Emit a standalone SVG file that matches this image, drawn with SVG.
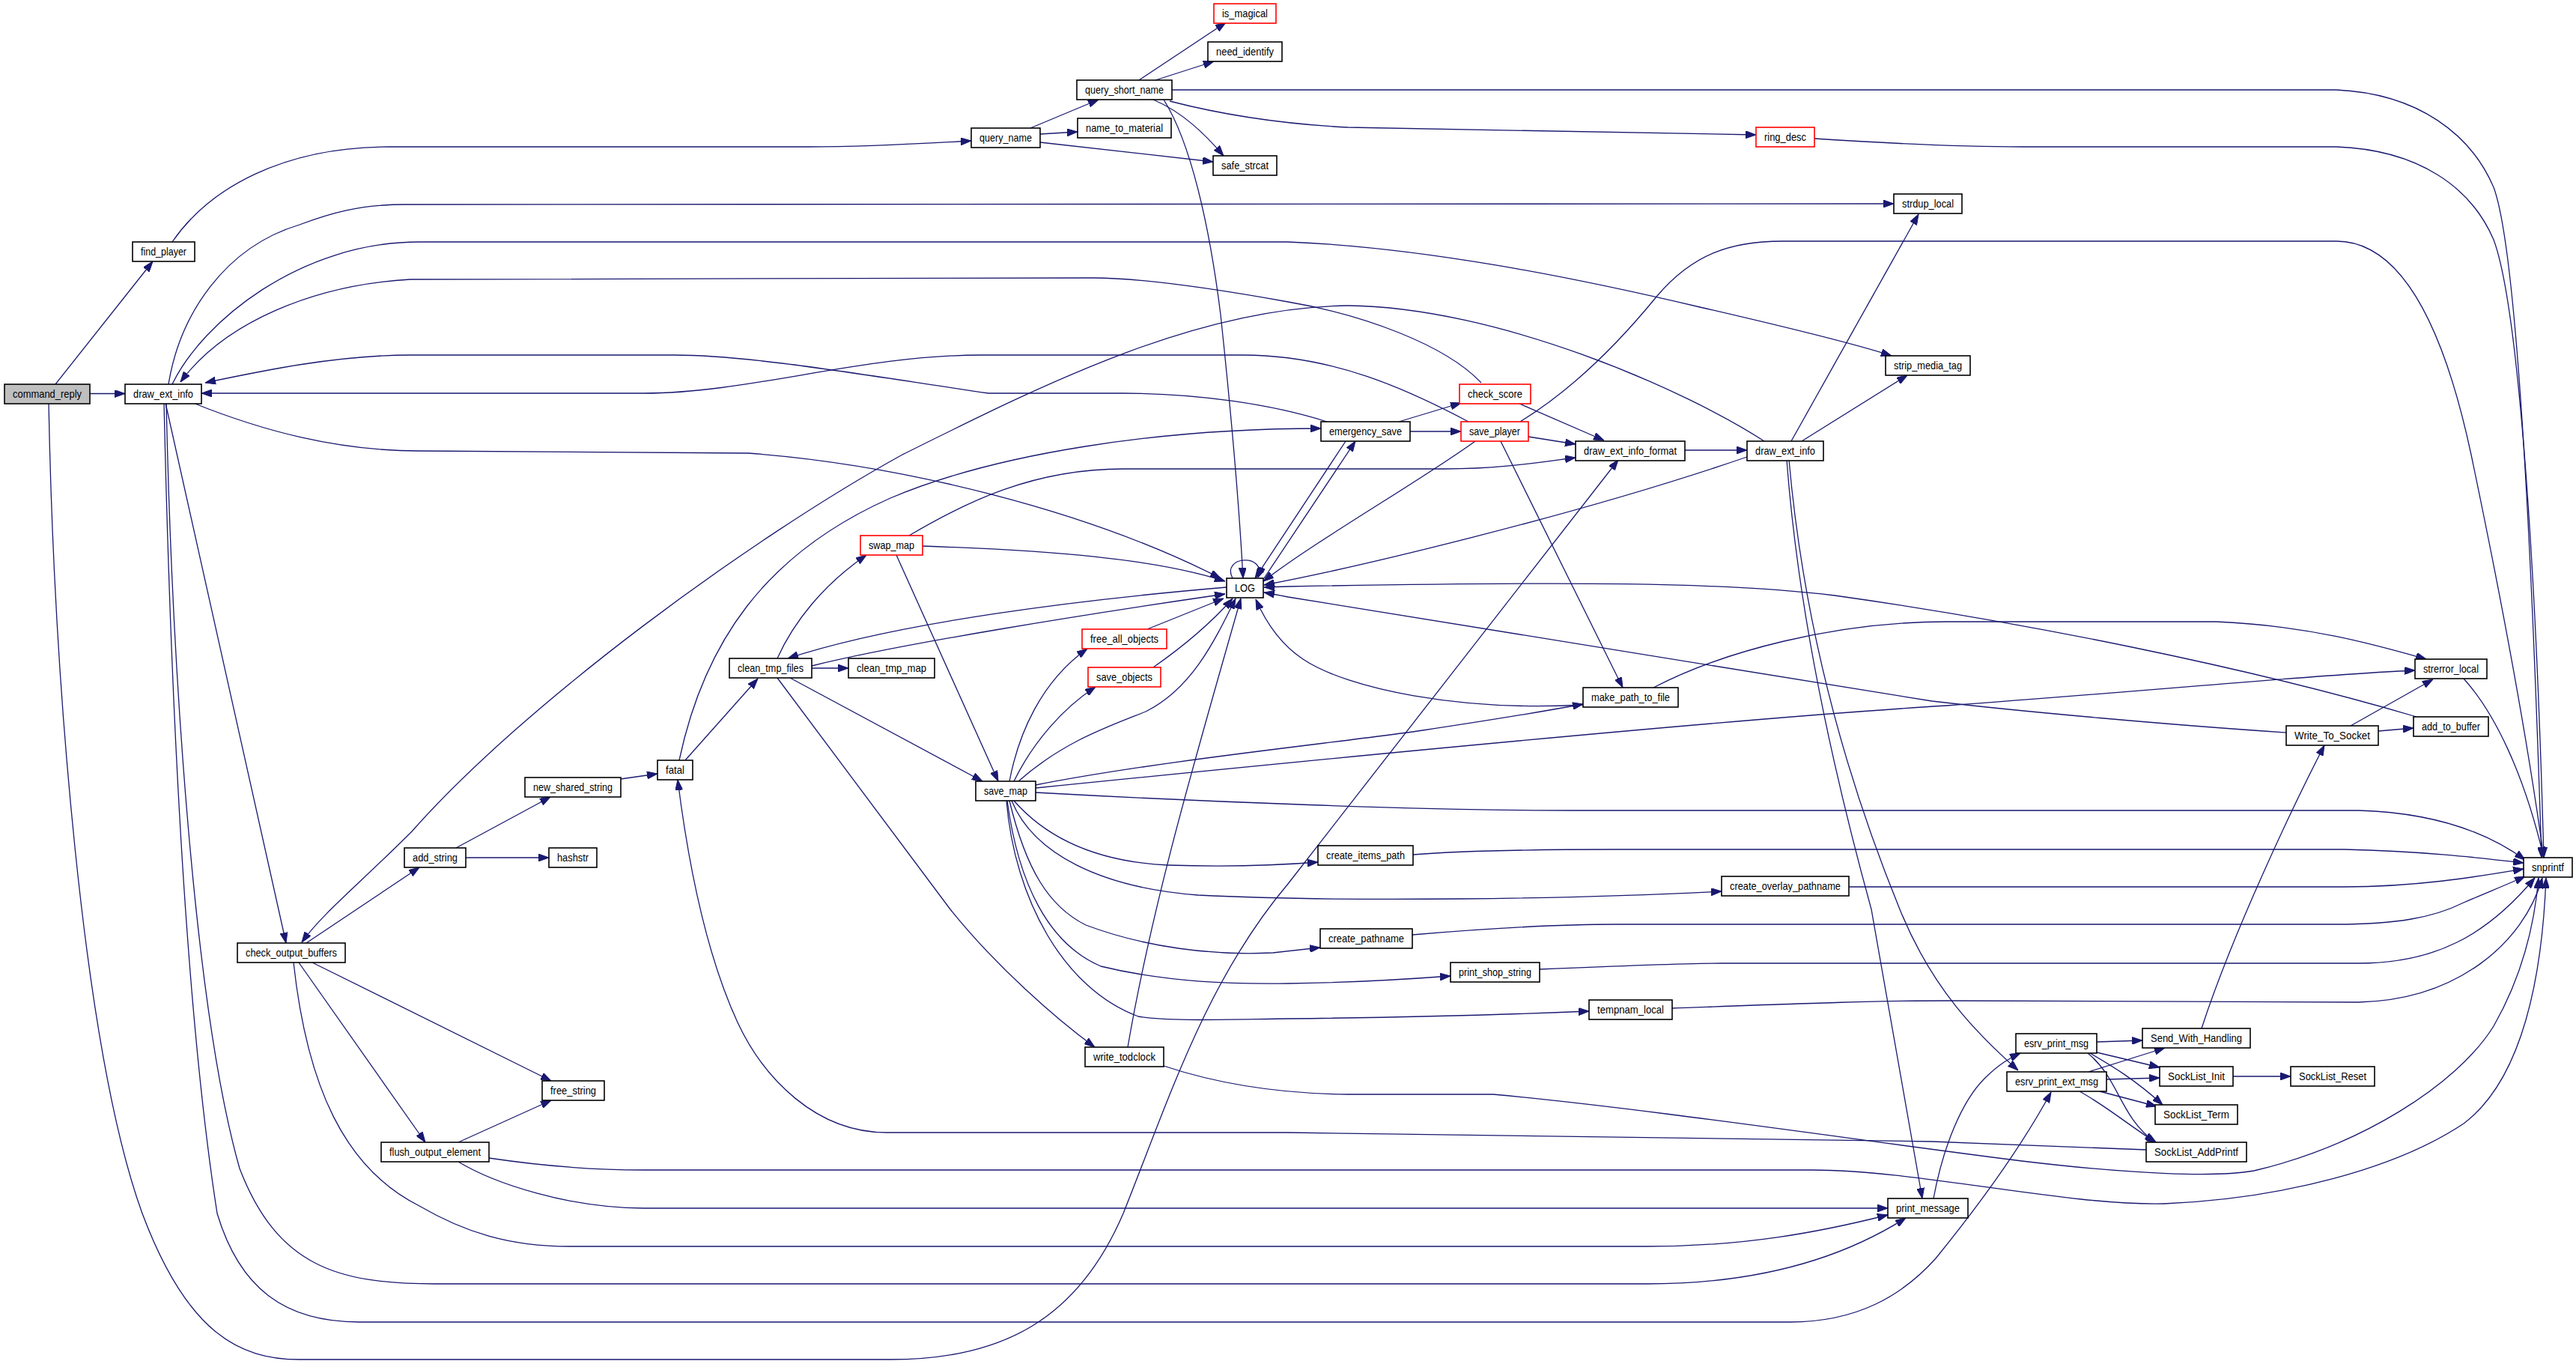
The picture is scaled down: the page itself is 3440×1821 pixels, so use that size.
<svg xmlns="http://www.w3.org/2000/svg" width="3440" height="1821" viewBox="0 0 3440 1821">
<defs>
<marker id="a" viewBox="0 0 14 10" refX="14" refY="5" markerWidth="14" markerHeight="10" markerUnits="userSpaceOnUse" orient="auto">
<path d="M0,0 L14,5 L0,10 z" fill="#191970" stroke="#191970" stroke-width="1"/>
</marker>
</defs>
<style>
.n rect{fill:#ffffff;stroke:#000000;stroke-width:1.6}
.n.r rect{stroke:#ff0000}
.n.g rect{fill:#bfbfbf}
.n text{font-family:"Liberation Sans",Arial,sans-serif;font-size:15px;text-anchor:middle;fill:#000000}
#edges path{fill:none;stroke:#191970;stroke-width:1.3;marker-end:url(#a)}
</style>
<rect x="0" y="0" width="3440" height="1821" fill="#ffffff"/>
<g id="edges">
<path d="M74,513 L204,349"/>
<path d="M120,525.5 L167,525.5"/>
<path d="M65,538 C72,900 110,1400 190,1620 C250,1780 320,1815 400,1815 L1190,1815 C1340,1815 1440,1760 1500,1620 C1560,1470 1610,1310 1720,1180 L2161,614"/>
<path d="M219,538 C225,800 240,1300 290,1620 C320,1720 380,1765 480,1765 L2390,1765 C2480,1765 2540,1730 2585,1680 C2650,1600 2700,1530 2739,1458"/>
<path d="M222,538 C230,900 260,1350 320,1560 C370,1690 450,1714 580,1714 L2200,1714 C2350,1714 2460,1680 2545,1626"/>
<path d="M392,1285 C410,1450 460,1560 560,1610 C620,1645 680,1664 760,1664 L2200,1664 C2330,1664 2430,1645 2521,1622"/>
<path d="M612,1551 C660,1580 760,1613 860,1613 L2521,1613"/>
<path d="M653,1546 C720,1556 790,1562 860,1562 L2420,1562 C2560,1562 2760,1610 2890,1607 C3050,1600 3200,1560 3290,1500 C3370,1440 3395,1300 3400,1172"/>
<path d="M1554,1423 C1620,1445 1700,1460 1800,1461 L1994,1461 C2200,1480 2500,1525 2700,1550 C2850,1568 2960,1572 3010,1563 C3150,1530 3280,1450 3330,1370 C3370,1300 3385,1230 3390,1172"/>
<path d="M2866,1535 L2580,1524 L1720,1512 L1184,1512 C1090,1512 1020,1440 985,1365 C955,1300 925,1200 905,1041"/>
<path d="M2582,1600 C2595,1530 2620,1470 2650,1440 C2670,1420 2685,1412 2698,1406"/>
<path d="M2386,614 C2400,800 2440,1000 2499,1214 L2567,1600"/>
<path d="M2389,614 C2410,850 2470,1050 2537,1214 C2580,1320 2640,1380 2695,1429"/>
<path d="M2392,589 L2562,286"/>
<path d="M2406,589 L2547,501"/>
<path d="M2356,589 C2250,520 2000,410 1800,408 C1600,410 1400,510 1205,607 C1000,720 700,940 550,1110 C480,1180 430,1220 403,1258"/>
<path d="M2333,610 C2100,690 1800,760 1688,781"/>
<path d="M1214,715 C1290,670 1380,626 1500,626 L1930,626 C2000,626 2050,618 2104,611"/>
<path d="M1232,729 C1400,735 1540,745 1636,776"/>
<path d="M1197,741 L1333,1043"/>
<path d="M1638,784 C1450,800 1200,830 1052,879"/>
<path d="M1084,889 C1200,860 1450,820 1636,793"/>
<path d="M1084,892 L1133,892"/>
<path d="M1038,879 C1060,830 1100,780 1157,741"/>
<path d="M1055,905 L1312,1043"/>
<path d="M1038,905 L1269,1214 C1330,1290 1410,1360 1462,1398"/>
<path d="M915,1015 L1012,906"/>
<path d="M907,1015 C940,860 1020,740 1189,665 C1330,605 1550,572 1764,572"/>
<path d="M829,1040 L878,1033"/>
<path d="M1532,840 L1634,799"/>
<path d="M1540,891 C1570,870 1610,840 1646,799"/>
<path d="M1348,1043 C1360,980 1390,910 1452,866"/>
<path d="M1354,1043 C1380,990 1420,945 1463,917"/>
<path d="M1360,1043 C1420,990 1480,970 1530,950 C1590,920 1620,860 1650,799"/>
<path d="M1506,1398 C1540,1200 1600,1000 1657,799"/>
<path d="M2114,941 C1950,950 1800,920 1740,880 C1710,860 1690,830 1677,800"/>
<path d="M2004,589 L2167,918"/>
<path d="M1970,589 C1900,640 1760,720 1687,776"/>
<path d="M1797,589 L1676,772"/>
<path d="M1688,772 L1810,589"/>
<path d="M1646,772 C1630,742 1692,738 1680,771"/>
<path d="M1868,563 L1951,538"/>
<path d="M1883,576 L1951,576"/>
<path d="M1772,563 C1700,540 1600,525 1500,525 L1320,525 C1150,500 1000,474 900,474 L548,474 C450,474 350,495 274,511"/>
<path d="M1961,563 C1880,520 1780,474 1660,474 L1310,474 C1150,474 1000,525 860,525 L269,525"/>
<path d="M1978,511 C1930,460 1820,420 1720,403 C1620,385 1520,371 1460,371 L548,373 C420,380 300,430 241,510"/>
<path d="M2027,538 L2142,588"/>
<path d="M2041,583 L2104,593"/>
<path d="M2030,563 C2100,520 2160,460 2213,395 C2260,340 2310,322 2380,322 L3120,322 C3200,322 3260,420 3300,607 C3330,750 3370,950 3397,1145"/>
<path d="M1565,120 L3120,120 C3230,125 3300,180 3330,250 C3360,330 3380,700 3394,1145"/>
<path d="M2423,185 C2500,190 2600,196 2700,196 L3120,196 C3230,200 3300,250 3330,320 C3360,400 3385,700 3397,1145"/>
<path d="M1562,135 C1620,150 1700,165 1800,170 L2345,180"/>
<path d="M1554,133 C1590,190 1615,300 1630,420 C1645,560 1655,680 1660,772"/>
<path d="M1540,133 C1580,150 1610,180 1634,208"/>
<path d="M1521,107 L1637,30"/>
<path d="M1543,107 L1621,82"/>
<path d="M1376,171 L1467,133"/>
<path d="M1389,179 L1439,176"/>
<path d="M1389,190 L1620,216"/>
<path d="M230,323 C280,250 380,196 520,196 L1080,196 C1150,196 1230,192 1297,188"/>
<path d="M225,513 C240,420 300,330 400,300 C440,285 480,273 540,273 L2529,272"/>
<path d="M230,513 C270,430 400,323 560,323 L1720,323 C1900,330 2100,370 2270,410 C2400,440 2480,460 2526,475"/>
<path d="M258,538 C350,575 450,602 560,602 L1000,605 C1200,620 1450,680 1630,772"/>
<path d="M221,538 L382,1259"/>
<path d="M409,1259 L560,1158"/>
<path d="M417,1285 L736,1443"/>
<path d="M399,1285 L568,1525"/>
<path d="M609,1132 L735,1064"/>
<path d="M622,1145 L733,1145"/>
<path d="M612,1525 L736,1469"/>
<path d="M2208,918 C2300,870 2450,830 2600,830 L2960,830 C3080,835 3170,860 3240,880"/>
<path d="M1383,1048 C1550,1015 1800,990 1900,975 C2000,960 2060,950 2114,940"/>
<path d="M1383,1052 C1700,1020 2300,960 2600,942 C2900,920 3100,900 3225,895"/>
<path d="M1383,1058 C1600,1070 1900,1082 2100,1082 L3150,1082 C3250,1085 3320,1110 3372,1148"/>
<path d="M1354,1069 C1390,1110 1450,1150 1560,1155 C1650,1158 1710,1155 1760,1151"/>
<path d="M1351,1069 C1380,1140 1470,1185 1600,1195 C1800,1205 2100,1200 2299,1190"/>
<path d="M1348,1069 C1370,1160 1400,1210 1450,1235 C1530,1265 1620,1276 1700,1272 L1763,1265"/>
<path d="M1345,1069 C1360,1180 1400,1260 1470,1290 C1560,1312 1650,1314 1720,1313 C1800,1312 1870,1308 1937,1303"/>
<path d="M1344,1069 C1355,1200 1420,1320 1520,1357 C1560,1364 1640,1361 1720,1360 C1900,1358 2000,1355 2122,1350"/>
<path d="M1887,1141 C1950,1136 2050,1134 2160,1134 L3130,1134 C3230,1136 3310,1145 3370,1152"/>
<path d="M2469,1184 L3130,1184 C3230,1184 3310,1170 3370,1160"/>
<path d="M1886,1248 C1980,1240 2080,1234 2160,1234 L3120,1234 C3200,1234 3250,1225 3290,1205 C3320,1192 3350,1180 3372,1170"/>
<path d="M2056,1294 C2150,1290 2250,1286 2300,1286 L3150,1286 C3250,1286 3320,1250 3385,1172"/>
<path d="M2233,1346 C2400,1340 2500,1336 2600,1336 L3150,1338 C3280,1335 3370,1260 3395,1172"/>
<path d="M3290,906 C3330,950 3370,1030 3397,1145"/>
<path d="M3139,969 L3249,907"/>
<path d="M3176,976 L3223,972"/>
<path d="M3053,978 C2900,968 2700,950 2580,936 L1720,797 C1710,795 1700,793 1688,791"/>
<path d="M3227,957 C3000,890 2700,830 2450,795 C2300,777 2100,776 1720,783 L1688,784"/>
<path d="M2940,1373 C2980,1250 3060,1080 3104,995"/>
<path d="M2800,1391 L2861,1389"/>
<path d="M2800,1405 L2884,1425"/>
<path d="M2791,1406 C2815,1420 2850,1440 2888,1475"/>
<path d="M2788,1406 C2830,1440 2830,1490 2878,1525"/>
<path d="M2789,1431 L2891,1399"/>
<path d="M2813,1441 L2884,1439"/>
<path d="M2804,1457 L2880,1477"/>
<path d="M2777,1457 C2810,1475 2840,1500 2880,1526"/>
<path d="M2982,1437 L3059,1437"/>
<path d="M2250,601 L2333,601"/>
</g>
<g id="n_command_reply" class="n g"><rect x="6" y="513" width="114" height="26"/><text x="63" y="531" textLength="92" lengthAdjust="spacingAndGlyphs">command_reply</text></g>
<g id="n_draw_ext_info_1" class="n"><rect x="167" y="513" width="102" height="26"/><text x="218" y="531" textLength="80" lengthAdjust="spacingAndGlyphs">draw_ext_info</text></g>
<g id="n_find_player" class="n"><rect x="177" y="323" width="83" height="26"/><text x="218.5" y="341" textLength="61" lengthAdjust="spacingAndGlyphs">find_player</text></g>
<g id="n_is_magical" class="n r"><rect x="1621" y="5" width="83" height="26"/><text x="1662.5" y="23" textLength="61" lengthAdjust="spacingAndGlyphs">is_magical</text></g>
<g id="n_need_identify" class="n"><rect x="1613" y="56" width="99" height="26"/><text x="1662.5" y="74" textLength="77" lengthAdjust="spacingAndGlyphs">need_identify</text></g>
<g id="n_query_short_name" class="n"><rect x="1438" y="107" width="127" height="26"/><text x="1501.5" y="125" textLength="105" lengthAdjust="spacingAndGlyphs">query_short_name</text></g>
<g id="n_name_to_material" class="n"><rect x="1439" y="158" width="125" height="26"/><text x="1501.5" y="176" textLength="103" lengthAdjust="spacingAndGlyphs">name_to_material</text></g>
<g id="n_query_name" class="n"><rect x="1297" y="171" width="92" height="26"/><text x="1343" y="189" textLength="70" lengthAdjust="spacingAndGlyphs">query_name</text></g>
<g id="n_safe_strcat" class="n"><rect x="1620" y="208" width="85" height="26"/><text x="1662.5" y="226" textLength="63" lengthAdjust="spacingAndGlyphs">safe_strcat</text></g>
<g id="n_ring_desc" class="n r"><rect x="2345" y="170" width="78" height="26"/><text x="2384" y="188" textLength="56" lengthAdjust="spacingAndGlyphs">ring_desc</text></g>
<g id="n_strdup_local" class="n"><rect x="2529" y="259" width="91" height="26"/><text x="2574.5" y="277" textLength="69" lengthAdjust="spacingAndGlyphs">strdup_local</text></g>
<g id="n_strip_media_tag" class="n"><rect x="2518" y="475" width="113" height="26"/><text x="2574.5" y="493" textLength="91" lengthAdjust="spacingAndGlyphs">strip_media_tag</text></g>
<g id="n_check_score" class="n r"><rect x="1949" y="513" width="95" height="26"/><text x="1996.5" y="531" textLength="73" lengthAdjust="spacingAndGlyphs">check_score</text></g>
<g id="n_emergency_save" class="n"><rect x="1764" y="563" width="119" height="26"/><text x="1823.5" y="581" textLength="97" lengthAdjust="spacingAndGlyphs">emergency_save</text></g>
<g id="n_save_player" class="n r"><rect x="1951" y="563" width="90" height="26"/><text x="1996" y="581" textLength="68" lengthAdjust="spacingAndGlyphs">save_player</text></g>
<g id="n_draw_ext_info_format" class="n"><rect x="2104" y="589" width="146" height="26"/><text x="2177" y="607" textLength="124" lengthAdjust="spacingAndGlyphs">draw_ext_info_format</text></g>
<g id="n_draw_ext_info_2" class="n"><rect x="2333" y="589" width="102" height="26"/><text x="2384" y="607" textLength="80" lengthAdjust="spacingAndGlyphs">draw_ext_info</text></g>
<g id="n_swap_map" class="n r"><rect x="1149" y="715" width="83" height="26"/><text x="1190.5" y="733" textLength="61" lengthAdjust="spacingAndGlyphs">swap_map</text></g>
<g id="n_LOG" class="n"><rect x="1638" y="772" width="49" height="26"/><text x="1662.5" y="790" textLength="27" lengthAdjust="spacingAndGlyphs">LOG</text></g>
<g id="n_free_all_objects" class="n r"><rect x="1445" y="840" width="113" height="26"/><text x="1501.5" y="858" textLength="91" lengthAdjust="spacingAndGlyphs">free_all_objects</text></g>
<g id="n_save_objects" class="n r"><rect x="1453" y="891" width="97" height="26"/><text x="1501.5" y="909" textLength="75" lengthAdjust="spacingAndGlyphs">save_objects</text></g>
<g id="n_clean_tmp_files" class="n"><rect x="974" y="879" width="110" height="26"/><text x="1029" y="897" textLength="88" lengthAdjust="spacingAndGlyphs">clean_tmp_files</text></g>
<g id="n_clean_tmp_map" class="n"><rect x="1133" y="879" width="115" height="26"/><text x="1190.5" y="897" textLength="93" lengthAdjust="spacingAndGlyphs">clean_tmp_map</text></g>
<g id="n_fatal" class="n"><rect x="878" y="1015" width="47" height="26"/><text x="901.5" y="1033" textLength="25" lengthAdjust="spacingAndGlyphs">fatal</text></g>
<g id="n_save_map" class="n"><rect x="1303" y="1043" width="80" height="26"/><text x="1343" y="1061" textLength="58" lengthAdjust="spacingAndGlyphs">save_map</text></g>
<g id="n_new_shared_string" class="n"><rect x="701" y="1038" width="128" height="26"/><text x="765" y="1056" textLength="106" lengthAdjust="spacingAndGlyphs">new_shared_string</text></g>
<g id="n_add_string" class="n"><rect x="540" y="1132" width="82" height="26"/><text x="581" y="1150" textLength="60" lengthAdjust="spacingAndGlyphs">add_string</text></g>
<g id="n_hashstr" class="n"><rect x="733" y="1132" width="64" height="26"/><text x="765" y="1150" textLength="42" lengthAdjust="spacingAndGlyphs">hashstr</text></g>
<g id="n_make_path_to_file" class="n"><rect x="2114" y="918" width="127" height="26"/><text x="2177.5" y="936" textLength="105" lengthAdjust="spacingAndGlyphs">make_path_to_file</text></g>
<g id="n_create_items_path" class="n"><rect x="1760" y="1129" width="127" height="26"/><text x="1823.5" y="1147" textLength="105" lengthAdjust="spacingAndGlyphs">create_items_path</text></g>
<g id="n_create_overlay_pathname" class="n"><rect x="2299" y="1170" width="170" height="26"/><text x="2384" y="1188" textLength="148" lengthAdjust="spacingAndGlyphs">create_overlay_pathname</text></g>
<g id="n_strerror_local" class="n"><rect x="3225" y="880" width="96" height="26"/><text x="3273" y="898" textLength="74" lengthAdjust="spacingAndGlyphs">strerror_local</text></g>
<g id="n_add_to_buffer" class="n"><rect x="3223" y="957" width="100" height="26"/><text x="3273" y="975" textLength="78" lengthAdjust="spacingAndGlyphs">add_to_buffer</text></g>
<g id="n_Write_To_Socket" class="n"><rect x="3053" y="969" width="123" height="26"/><text x="3114.5" y="987" textLength="101" lengthAdjust="spacingAndGlyphs">Write_To_Socket</text></g>
<g id="n_snprintf" class="n"><rect x="3370" y="1145" width="65" height="26"/><text x="3402.5" y="1163" textLength="43" lengthAdjust="spacingAndGlyphs">snprintf</text></g>
<g id="n_check_output_buffers" class="n"><rect x="317" y="1259" width="144" height="26"/><text x="389" y="1277" textLength="122" lengthAdjust="spacingAndGlyphs">check_output_buffers</text></g>
<g id="n_free_string" class="n"><rect x="724" y="1443" width="83" height="26"/><text x="765.5" y="1461" textLength="61" lengthAdjust="spacingAndGlyphs">free_string</text></g>
<g id="n_flush_output_element" class="n"><rect x="509" y="1525" width="144" height="26"/><text x="581" y="1543" textLength="122" lengthAdjust="spacingAndGlyphs">flush_output_element</text></g>
<g id="n_write_todclock" class="n"><rect x="1449" y="1398" width="105" height="26"/><text x="1501.5" y="1416" textLength="83" lengthAdjust="spacingAndGlyphs">write_todclock</text></g>
<g id="n_create_pathname" class="n"><rect x="1763" y="1240" width="123" height="26"/><text x="1824.5" y="1258" textLength="101" lengthAdjust="spacingAndGlyphs">create_pathname</text></g>
<g id="n_print_shop_string" class="n"><rect x="1937" y="1285" width="119" height="26"/><text x="1996.5" y="1303" textLength="97" lengthAdjust="spacingAndGlyphs">print_shop_string</text></g>
<g id="n_tempnam_local" class="n"><rect x="2122" y="1335" width="111" height="26"/><text x="2177.5" y="1353" textLength="89" lengthAdjust="spacingAndGlyphs">tempnam_local</text></g>
<g id="n_print_message" class="n"><rect x="2521" y="1600" width="107" height="26"/><text x="2574.5" y="1618" textLength="85" lengthAdjust="spacingAndGlyphs">print_message</text></g>
<g id="n_esrv_print_msg" class="n"><rect x="2692" y="1380" width="108" height="26"/><text x="2746" y="1398" textLength="86" lengthAdjust="spacingAndGlyphs">esrv_print_msg</text></g>
<g id="n_esrv_print_ext_msg" class="n"><rect x="2680" y="1431" width="133" height="26"/><text x="2746.5" y="1449" textLength="111" lengthAdjust="spacingAndGlyphs">esrv_print_ext_msg</text></g>
<g id="n_Send_With_Handling" class="n"><rect x="2861" y="1373" width="144" height="26"/><text x="2933" y="1391" textLength="122" lengthAdjust="spacingAndGlyphs">Send_With_Handling</text></g>
<g id="n_SockList_Init" class="n"><rect x="2884" y="1424" width="98" height="26"/><text x="2933" y="1442" textLength="76" lengthAdjust="spacingAndGlyphs">SockList_Init</text></g>
<g id="n_SockList_Reset" class="n"><rect x="3059" y="1424" width="112" height="26"/><text x="3115" y="1442" textLength="90" lengthAdjust="spacingAndGlyphs">SockList_Reset</text></g>
<g id="n_SockList_Term" class="n"><rect x="2878" y="1475" width="110" height="26"/><text x="2933" y="1493" textLength="88" lengthAdjust="spacingAndGlyphs">SockList_Term</text></g>
<g id="n_SockList_AddPrintf" class="n"><rect x="2866" y="1525" width="134" height="26"/><text x="2933" y="1543" textLength="112" lengthAdjust="spacingAndGlyphs">SockList_AddPrintf</text></g>
</svg>
